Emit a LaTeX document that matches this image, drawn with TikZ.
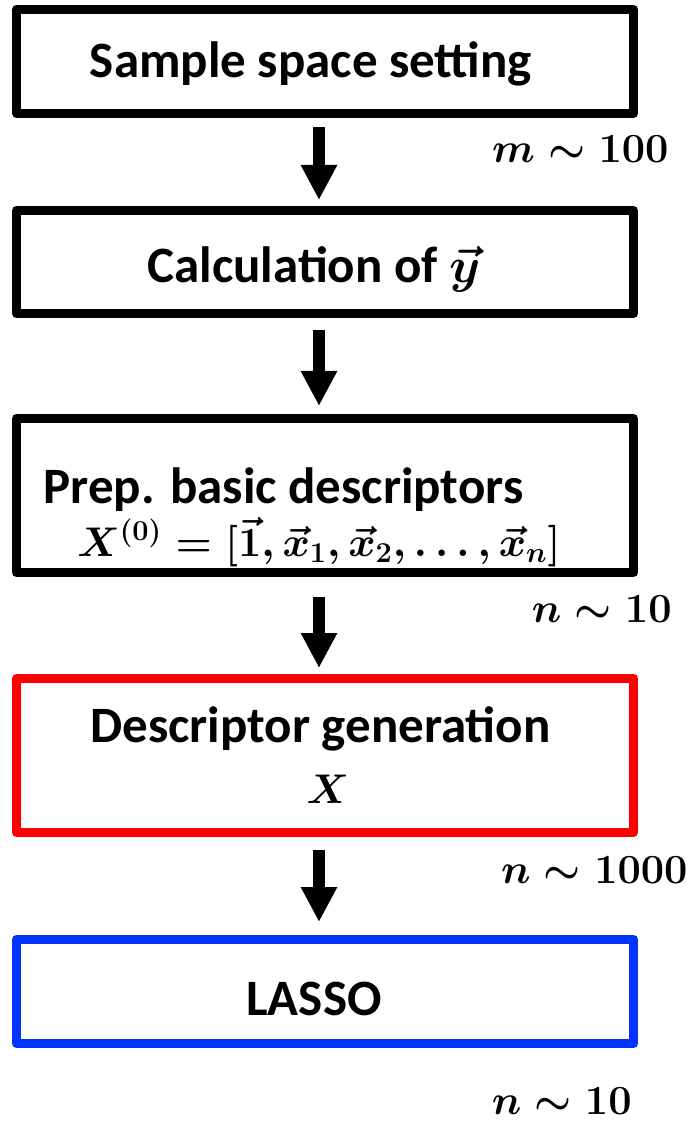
\documentclass[tikz,border=0pt]{standalone}
\usepackage[no-math]{fontspec}
\setmainfont{Carlito}
\usepackage{amsmath}
\usetikzlibrary{arrows.meta}
\definecolor{boxblue}{RGB}{0,51,255}

\tikzset{
  stage/.style={draw, line width=4.5pt, line join=round, minimum width=308.5pt, inner sep=0pt},
  lbl/.style={font=\fontsize{25.5}{30}\selectfont\bfseries\boldmath, inner sep=0pt, anchor=base},
  sizelbl/.style={font=\fontsize{22.8}{27}\selectfont\boldmath, inner sep=0pt, anchor=base east},
  flow/.style={-{Triangle[width=17pt,length=17.5pt]}, line width=6pt},
}

\begin{document}
\begin{tikzpicture}[x=0.5pt, y=-0.5pt]
\useasboundingbox (0,0) rectangle (695,1122);
% boxes
\node[stage, minimum height=52pt] (b1) at (325,61.5) {};
\node[stage, minimum height=51.5pt] (b2) at (325,262) {};
\node[stage, minimum height=77pt] (b3) at (325,495.5) {};
\node[stage, draw=red, minimum height=77pt] (b4) at (325,755.5) {};
\node[stage, draw=boxblue, minimum height=52pt] (b5) at (325,991.5) {};
% texts
\node[lbl] (t1) at (311,78) {Sample space setting};
\node[lbl] (t2) at (314,283) {Calculation of $\vec{y}$};
\node[lbl, anchor=base west] (t3) at (43,503) {Prep. basic descriptors};
\node[lbl, font=\fontsize{20.5}{25}\selectfont\boldmath] (f3) at (319,556) {$X^{(0)} = [\vec{1}, \vec{x}_1, \vec{x}_2, \ldots, \vec{x}_n]$};
\node[lbl, font=\fontsize{22.8}{27}\selectfont\boldmath] (f4) at (328,803) {$X$};
\node[lbl] (t4) at (320.5,742) {Descriptor generation};
\node[lbl] (t5) at (314,1015) {LASSO};
% sizes
\node[sizelbl] (s1) at (669,163) {$m \sim 100$};
\node[sizelbl] (s2) at (672,622) {$n \sim 10$};
\node[sizelbl] (s3) at (688,883) {$n \sim 1000$};
\node[sizelbl] (s4) at (632,1114) {$n \sim 10$};
% arrows
\draw[flow, shorten <=4.5pt, shorten >=3pt] ([xshift=-3pt]b1.south) -- ([xshift=-3pt]b2.north);
\draw[flow, shorten <=6pt, shorten >=4pt] ([xshift=-3pt]b2.south) -- ([xshift=-3pt]b3.north);
\draw[flow, shorten <=10pt, shorten >=3pt] ([xshift=-3pt]b3.south) -- ([xshift=-3pt]b4.north);
\draw[flow, shorten <=6.5pt, shorten >=6.5pt] ([xshift=-3pt]b4.south) -- ([xshift=-3pt]b5.north);
\end{tikzpicture}
\end{document}
